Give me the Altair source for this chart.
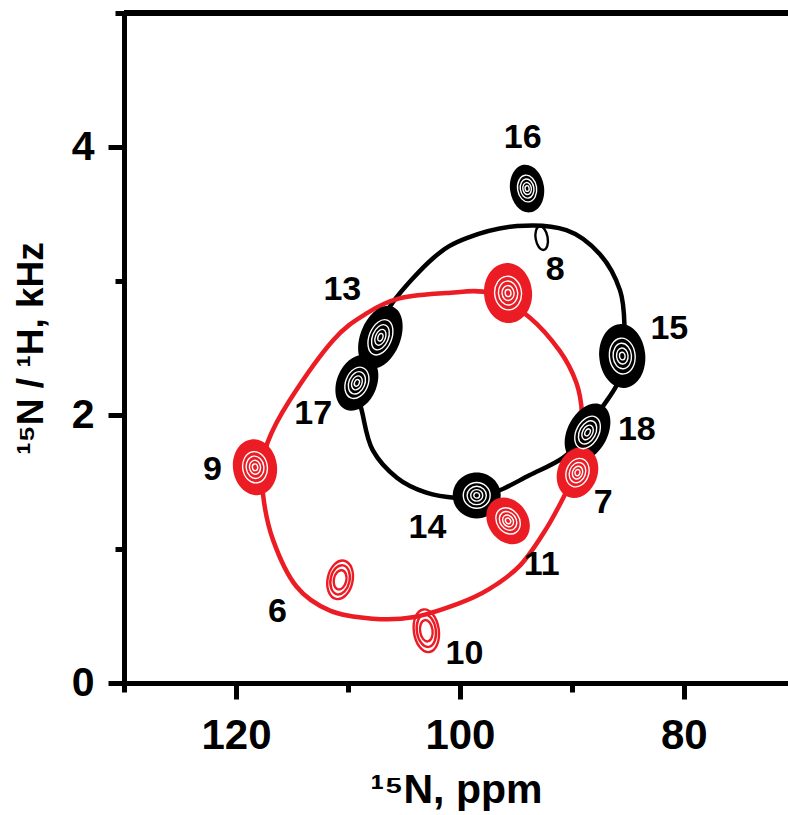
import altair as alt
import pandas as pd

# ---- data ----
# Black PISA wheel (15N ppm, 15N/1H kHz)
black_wheel_ppm = [106.0, 102.4, 99.4, 94.9, 90.5, 87.5, 85.7, 85.3, 85.5, 85.9, 87.5, 88.6,
                   90.8, 93.8, 96.4, 98.5, 100.3, 103.0, 105.6, 107.8, 108.7, 109.1, 108.0, 107.1]
black_wheel_khz = [2.84, 3.17, 3.32, 3.41, 3.38, 3.20, 2.93, 2.65, 2.43, 2.24, 2.03, 1.86,
                   1.68, 1.55, 1.44, 1.39, 1.38, 1.42, 1.53, 1.74, 2.01, 2.22, 2.44, 2.63]
# Red PISA wheel
red_wheel_ppm = [117.4, 117.2, 115.2, 111.3, 108.3, 105.4, 101.2, 97.3, 93.8, 91.1, 89.6, 89.1,
                 89.3, 89.6, 90.6, 92.3, 94.6, 97.4, 100.2, 104.2, 107.8, 111.6, 114.6, 116.7, 117.6]
red_wheel_khz = [1.61, 1.79, 2.11, 2.56, 2.76, 2.87, 2.91, 2.91, 2.73, 2.48, 2.24, 2.01,
                 1.81, 1.59, 1.41, 1.15, 0.88, 0.70, 0.59, 0.49, 0.48, 0.54, 0.72, 1.07, 1.42]

# Resonances (peak centres)
peak_labels = ["16", "13", "17", "15", "18", "14", "8", "9", "7", "11", "6", "10"]
peak_ppm = [94.0, 107.1, 109.2, 85.5, 88.6, 98.5, 95.7, 118.3, 89.5, 95.7, 110.7, 103.0]
peak_khz = [3.69, 2.58, 2.24, 2.44, 1.87, 1.40, 2.91, 1.61, 1.57, 1.21, 0.77, 0.39]
peak_set = ["black", "black", "black", "black", "black", "black",
            "red", "red", "red", "red", "red", "red"]
# small satellite contour hanging below peak 16
tail_ppm = [92.7]
tail_khz = [3.32]
# Residue number annotations
label_ppm = [94.4, 110.5, 113.1, 81.3, 84.2, 102.9, 91.5, 122.1, 87.2, 92.7, 116.3, 99.6]
label_khz = [4.07, 2.93, 2.01, 2.64, 1.89, 1.16, 3.08, 1.59, 1.34, 0.88, 0.53, 0.22]

# ---- styling ----
BLACK = "#000000"
RED = "#ec1c24"
FONT = "Liberation Sans, Arial, Helvetica, sans-serif"

# contour blob look: (width px, height px, rotation deg, filled?)
blob_style = {
    "16": (34, 48, -8, True), "13": (40, 66, 22, True), "17": (40, 58, 22, True),
    "15": (46, 64, -5, True), "18": (40, 62, 28, True), "14": (48, 46, 0, True),
    "8": (48, 60, -5, True), "9": (44, 56, -8, True), "7": (40, 52, 20, True),
    "11": (40, 50, -35, True), "6": (25, 39, 12, False), "10": (25, 43, -8, False),
}


def ellipse_path(aspect):
    a = round(aspect, 3)
    return f"M {-a} 0 A {a} 1 0 1 0 {a} 0 A {a} 1 0 1 0 {-a} 0 Z"


def wheel_frame(ppm, khz):
    return pd.DataFrame({"ppm": ppm, "khz": khz, "order": list(range(len(ppm)))})


black_df = wheel_frame(black_wheel_ppm, black_wheel_khz)
red_df = wheel_frame(red_wheel_ppm, red_wheel_khz)

rows = []
ring_rows = []
for lab, p, k, s in zip(peak_labels, peak_ppm, peak_khz, peak_set):
    w, h, ang, filled = blob_style[lab]
    path = ellipse_path(w / h)
    col = BLACK if s == "black" else RED
    if filled:
        rows.append({"label": lab, "ppm": p, "khz": k, "path": path, "size": h * h,
                     "angle": ang % 360, "color": col})
        for f in (0.56, 0.4, 0.25, 0.12):
            ring_rows.append({"ppm": p, "khz": k, "path": path, "size": (h * f) ** 2,
                              "angle": ang % 360, "color": "#ffffff", "sw": 1.4})
    else:
        for f in (1.0, 0.76, 0.5):
            ring_rows.append({"ppm": p, "khz": k, "path": path, "size": (h * f) ** 2,
                              "angle": ang % 360, "color": col, "sw": 2.4})
for p, k in zip(tail_ppm, tail_khz):
    ring_rows.append({"ppm": p, "khz": k, "path": ellipse_path(0.5), "size": 24 ** 2,
                      "angle": 350, "color": BLACK, "sw": 2.4})

blobs_df = pd.DataFrame(rows)
blob_black = blobs_df[blobs_df["color"] == BLACK]
blob_red = blobs_df[blobs_df["color"] == RED]
rings_df = pd.DataFrame(ring_rows)
labels_df = pd.DataFrame({"label": peak_labels, "ppm": label_ppm, "khz": label_khz})

major_x = "datum.value % 20 === 0"
major_y = "datum.value % 2 === 0"

x_enc = alt.X(
    "ppm:Q",
    scale=alt.Scale(domain=[70.7, 130], reverse=True, nice=False, zero=False),
    axis=alt.Axis(
        values=[130, 120, 110, 100, 90, 80],
        format="d",
        title="¹⁵N, ppm",
        labelExpr=f"{major_x} ? datum.label : ''",
        tickSize={"condition": {"test": major_x, "value": 16}, "value": 9},
        labelPadding=16,
        labelFontSize=42,
        labelOverlap=False, labelFlush=False,
        titleFontSize=41,
        titleBaseline="alphabetic", titleY=119,
        grid=False,
    ),
)
y_enc = alt.Y(
    "khz:Q",
    scale=alt.Scale(domain=[0, 5], nice=False, zero=False),
    axis=alt.Axis(
        values=[0, 1, 2, 3, 4, 5],
        format="d",
        title="¹⁵N / ¹H, kHz",
        labelExpr=f"{major_y} ? datum.label : ''",
        tickSize={"condition": {"test": major_y, "value": 16}, "value": 9},
        labelPadding=14,
        labelFontSize=41,
        labelOverlap=False, labelFlush=False,
        titleFontSize=37,
        titleBaseline="middle", titleX=-93,
        grid=False,
    ),
)

black_line = alt.Chart(black_df).mark_line(
    color=BLACK, strokeWidth=4.5, interpolate="cardinal-closed"
).encode(x=x_enc, y=y_enc, order="order:Q")

red_line = alt.Chart(red_df).mark_line(
    color=RED, strokeWidth=4.5, interpolate="cardinal-closed"
).encode(x=x_enc, y=y_enc, order="order:Q")


def blob_layer(df):
    return alt.Chart(df).mark_point(filled=True, opacity=1, strokeWidth=0).encode(
        x=x_enc, y=y_enc,
        shape=alt.Shape("path:N", scale=None),
        size=alt.Size("size:Q", scale=None),
        angle=alt.Angle("angle:Q", scale=None),
        color=alt.Color("color:N", scale=None),
    )


rings = alt.Chart(rings_df).mark_point(filled=False, opacity=1).encode(
    x=x_enc, y=y_enc,
    shape=alt.Shape("path:N", scale=None),
    size=alt.Size("size:Q", scale=None),
    angle=alt.Angle("angle:Q", scale=None),
    color=alt.Color("color:N", scale=None),
    strokeWidth=alt.StrokeWidth("sw:Q", scale=None),
)

texts = alt.Chart(labels_df).mark_text(
    font=FONT, fontSize=34, fontWeight="bold", color=BLACK,
    align="center", baseline="middle",
).encode(x=x_enc, y=y_enc, text="label:N")

top_rule = alt.Chart(labels_df).mark_rule(color=BLACK, strokeWidth=5).encode(
    y=alt.datum(5)
)

chart = alt.layer(
    black_line, red_line, blob_layer(blob_black), blob_layer(blob_red), rings, texts, top_rule
).properties(
    width=664, height=670,
    autosize=alt.AutoSizeParams(type="none"),
    padding={"left": 124, "top": 13, "right": 0, "bottom": 132},
    background="white",
).configure_view(stroke=None).configure_axis(
    domainColor=BLACK, domainWidth=5, domainCap="square",
    tickColor=BLACK, tickWidth=5,
    labelColor=BLACK, labelFontWeight="bold", labelFont=FONT,
    titleColor=BLACK, titleFontWeight="bold", titleFont=FONT,
)

chart.save("out.html", embed_options={"renderer": "svg", "actions": False})
